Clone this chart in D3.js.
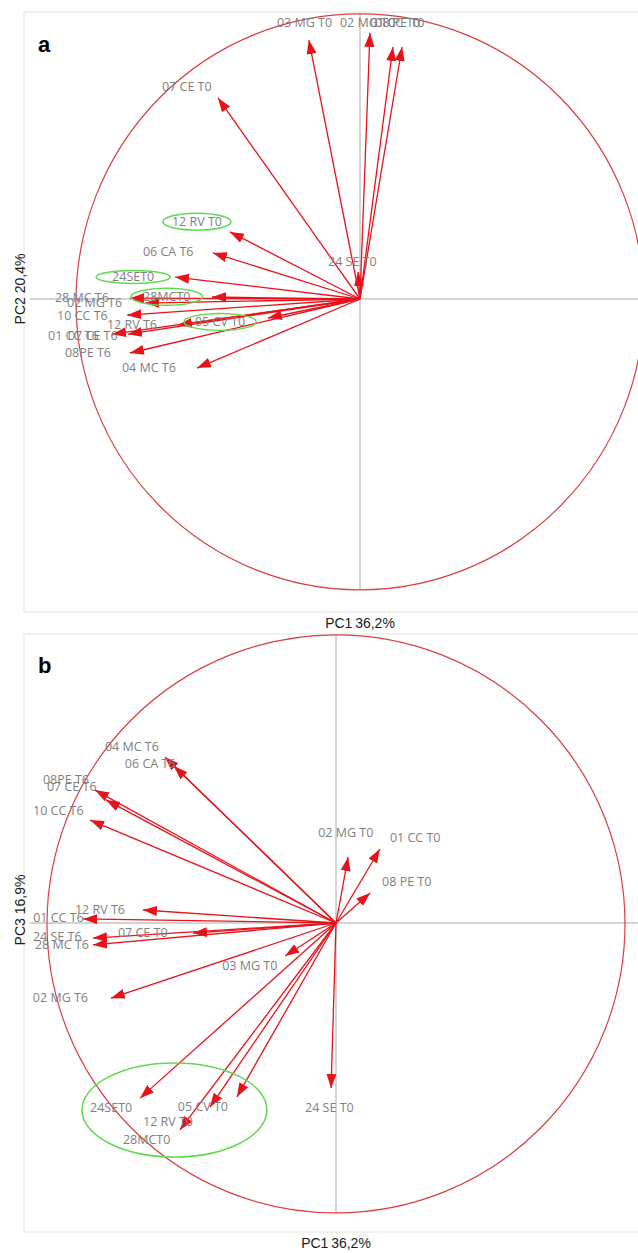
<!DOCTYPE html>
<html><head><meta charset="utf-8">
<script src="https://cdn.jsdelivr.net/npm/d3@7"></script>
<style>body{margin:0;background:#fff}svg{display:block}</style>
</head><body>
<script>
// ---------- data ----------
const labelsA = ["03 MG T0","02 MG T0","01 CC T0","08 PE T0","07 CE T0","12 RV T0","06 CA T6","24SET0","28MCT0","28 MC T6","02 MG T6","10 CC T6","12 RV T6","05 CV T0","01 CC T6","07 CE T6","08PE T6","04 MC T6","24 SE T0"];
const pc1A = [-0.18,0.035,0.116,0.148,-0.50,-0.458,-0.518,-0.651,-0.521,-0.81,-0.757,-0.82,-0.641,-0.324,-0.873,-0.817,-0.81,-0.574,-0.007];
const pc2A = [0.899,0.924,0.875,0.875,0.698,0.233,0.16,0.076,0.007,0.003,-0.014,-0.056,-0.09,-0.066,-0.122,-0.122,-0.1875,-0.24,0.094];

const labelsB = ["04 MC T6","06 CA T6","08PE T6","07 CE T6","10 CC T6","02 MG T0","01 CC T0","08 PE T0","12 RV T6","01 CC T6","07 CE T0","24 SE T6","28 MC T6","03 MG T0","02 MG T6","24SET0","05 CV T0","12 RV T0","28MCT0","24 SE T0"];
const pc1B = [-0.592,-0.561,-0.834,-0.796,-0.851,0.042,0.152,0.118,-0.668,-0.875,-0.495,-0.841,-0.841,-0.176,-0.779,-0.678,-0.343,-0.436,-0.54,-0.017];
const pc3B = [0.574,0.543,0.46,0.426,0.356,0.228,0.256,0.104,0.045,0.014,-0.035,-0.052,-0.076,-0.114,-0.26,-0.606,-0.602,-0.637,-0.716,-0.571];

const circledA = ["12 RV T0","24SET0","28MCT0","05 CV T0"];
const circledB = ["24SET0","05 CV T0","12 RV T0","28MCT0"];
const panelLetters = ["a","b"];
const xTitles = ["PC1\u200936,2%","PC1\u200936,2%"];
const yTitles = ["PC2 20,4%","PC3 16,9%"];

// ---------- layout (label nudges in px from arrow tip; ellipse paddings) ----------
const nudgeA = [[-32,-17],[-30,-10],[-23,-24],[-27,-24],[-56,-11],[-58,-10],[-70,-1],[-63,0],[-69,0],[-75,-1],[-78,0],[-70,0],[-71,0],[-73,4],[-64,1],[-60,1],[-65,0],[-75,0],[-30,-10]];
const nudgeB = [[-60,-10],[-49,-2],[-52,-10],[-59,-13],[-57,-9],[-30,-24],[10,-11],[12,-11],[-68,0],[-50,-1],[-75,0],[-60,-1],[-58,0],[-63,10],[-78,-1],[-50,9],[-59,10],[-67,15],[-57,10],[-26,20]];
const ellPadA = [[9,4],[16,2],[12,4],[11,4]];

const W = 638, H = 1253;
const RED = "#e8121a", GRAY_TXT = "#7f7f7f", GREEN = "#5fd94e";

const svg = d3.select("body").append("svg").attr("width", W).attr("height", H);
svg.append("rect").attr("width", W).attr("height", H).attr("fill", "#fff");

const defs = svg.append("defs");
defs.append("marker").attr("id","ah").attr("markerUnits","userSpaceOnUse")
  .attr("markerWidth",15).attr("markerHeight",11).attr("refX",14).attr("refY",5)
  .attr("orient","auto")
  .append("path").attr("d","M0,0 L14,5 L0,10 Z").attr("fill",RED);

function panel(cfg) {
  const g = svg.append("g");
  const x = d3.scaleLinear().domain([-1,1]).range([cfg.ox - cfg.kx, cfg.ox + cfg.kx]);
  const y = d3.scaleLinear().domain([-1,1]).range([cfg.oy + cfg.ky, cfg.oy - cfg.ky]);
  g.append("rect").attr("x", cfg.frame[0]).attr("y", cfg.frame[1])
    .attr("width", cfg.frame[2]).attr("height", cfg.frame[3])
    .attr("fill","none").attr("stroke","#e4e4e4").attr("stroke-width",1);
  const cx = x(0), cy = y(cfg.circleY);
  g.append("line").attr("x1", cx).attr("x2", cx).attr("y1", cy - cfg.ky).attr("y2", cy + cfg.ky)
    .attr("stroke","#a9a9a9").attr("stroke-width",1);
  g.append("line").attr("x1", cfg.hx0).attr("x2", W).attr("y1", y(0)).attr("y2", y(0))
    .attr("stroke","#a9a9a9").attr("stroke-width",1);
  g.append("ellipse").attr("cx", cx).attr("cy", cy).attr("rx", cfg.kx).attr("ry", cfg.ky)
    .attr("fill","none").attr("stroke","#d9403f").attr("stroke-width",1.2);
  const data = cfg.labels.map((l,i)=>({l, vx: cfg.vx[i], vy: cfg.vy[i], n: cfg.nudge[i]}));
  g.selectAll("line.arrow").data(data).join("line").attr("class","arrow")
    .attr("x1", x(0)).attr("y1", y(0))
    .attr("x2", d=>x(d.vx)).attr("y2", d=>y(d.vy))
    .attr("stroke", RED).attr("stroke-width",1.3).attr("marker-end","url(#ah)");
  const txt = g.selectAll("text.lab").data(data).join("text").attr("class","lab")
    .attr("x", d=>x(d.vx)+d.n[0]).attr("y", d=>y(d.vy)+d.n[1])
    .attr("dy","0.35em")
    .attr("font-family","'Open Sans', 'DejaVu Sans', sans-serif").attr("font-size","12.5px")
    .attr("fill", GRAY_TXT).text(d=>d.l);
  if (cfg.circleEach) {
    txt.filter(d=>cfg.circled.includes(d.l)).each(function(d){
      const b = this.getBBox();
      const p = cfg.ellPad[cfg.circled.indexOf(d.l)];
      g.append("ellipse").attr("cx", b.x + b.width/2).attr("cy", b.y + b.height/2)
        .attr("rx", b.width/2 + p[0]).attr("ry", b.height/2 + p[1] - 4)
        .attr("fill","none").attr("stroke",GREEN).attr("stroke-width",1.5);
    });
  } else {
    g.append("ellipse").attr("cx", x(cfg.groupEllipse[0])).attr("cy", y(cfg.groupEllipse[1]))
      .attr("rx", cfg.groupEllipse[2]*cfg.kx).attr("ry", cfg.groupEllipse[3]*cfg.ky)
      .attr("fill","none").attr("stroke",GREEN).attr("stroke-width",1.5);
  }
  svg.append("text").attr("x", cfg.letterPos[0]).attr("y", cfg.letterPos[1])
    .attr("font-family","'Liberation Sans', Arial, sans-serif").attr("font-weight","bold")
    .attr("font-size","22px").attr("fill","#000").text(cfg.letter);
  svg.append("text").attr("x", cfg.xt[0]).attr("y", cfg.xt[1]).attr("text-anchor","middle")
    .attr("font-family","'Liberation Sans', Arial, sans-serif").attr("font-size","14px")
    .attr("fill","#1a1a1a").text(cfg.xTitle);
  svg.append("text").attr("transform", `translate(${cfg.yt[0]},${cfg.yt[1]}) rotate(-90)`)
    .attr("text-anchor","middle")
    .attr("font-family","'Liberation Sans', Arial, sans-serif").attr("font-size","14px")
    .attr("fill","#1a1a1a").text(cfg.yTitle);
}

panel({ ox:360, oy:299, kx:284, ky:288, circleY:-0.01, hx0:30,
  frame:[24,12,640,600], labels:labelsA, vx:pc1A, vy:pc2A, nudge:nudgeA,
  circled:circledA, circleEach:true, ellPad:ellPadA,
  letter:panelLetters[0], letterPos:[38,52], xTitle:xTitles[0], xt:[360,628],
  yTitle:yTitles[0], yt:[25,289] });

panel({ ox:336, oy:923, kx:289, ky:289, circleY:-0.003, hx0:30,
  frame:[24,634,640,598], labels:labelsB, vx:pc1B, vy:pc3B, nudge:nudgeB,
  circled:circledB, circleEach:false, groupEllipse:[-0.559,-0.647,0.32,0.163],
  letter:panelLetters[1], letterPos:[38,673], xTitle:xTitles[1], xt:[336,1248],
  yTitle:yTitles[1], yt:[25,910] });
</script>
</body></html>
